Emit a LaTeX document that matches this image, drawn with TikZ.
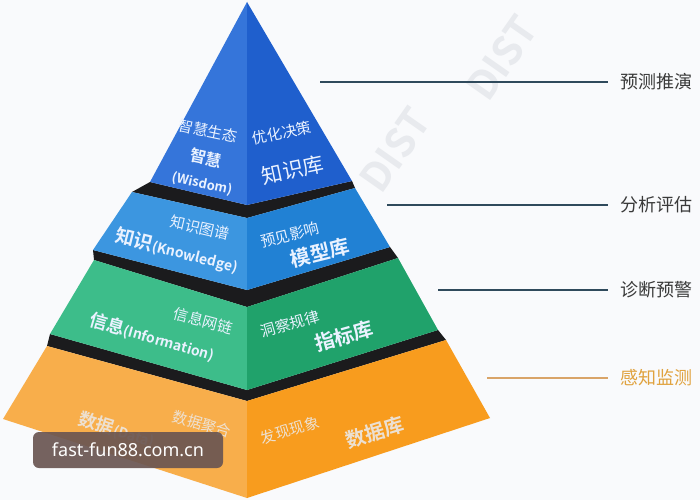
\documentclass[tikz,border=0pt]{standalone}
\usepackage{fontspec}
\setmainfont{Noto Sans CJK SC}[BoldFont={Noto Sans CJK SC Bold}]
\newfontfamily\urlfont{Noto Sans}
\usepackage{tikz}

\definecolor{bgC}{HTML}{F9FAFC}
\definecolor{bandC}{HTML}{1B1B1D}
\definecolor{wisL}{HTML}{3575DA}
\definecolor{wisR}{HTML}{1F5FCD}
\definecolor{knoL}{HTML}{3C96E0}
\definecolor{knoR}{HTML}{2181D4}
\definecolor{infL}{HTML}{3DBD8A}
\definecolor{infR}{HTML}{20A26B}
\definecolor{datL}{HTML}{F8AE4B}
\definecolor{datR}{HTML}{F89C1E}
\definecolor{faceW}{HTML}{EAF2FF}
\definecolor{lineC}{HTML}{2F4A5C}
\definecolor{lineO}{HTML}{D9A468}
\definecolor{labelC}{HTML}{3A3A3A}
\definecolor{labelO}{HTML}{E0A23E}
\definecolor{markC}{HTML}{E8EAEE}
\definecolor{urlC}{HTML}{6A5652}

\begin{document}
\begin{tikzpicture}[x=1pt, y=-1pt,
	facetxt/.style={text=faceW, inner sep=0pt},
	smalltxt/.style={facetxt, font=\fontsize{15}{15}\selectfont},
	bigtxt/.style={facetxt, font=\bfseries\fontsize{20}{20}\selectfont},
	mixtxt/.style={facetxt, font=\bfseries},
	band/.style={fill=bandC},
	sideline/.style={line width=1.6pt, draw=lineC},
	sidelabel/.style={anchor=west, inner xsep=12pt, text=labelC,
		font=\fontsize{18}{18}\selectfont},
	distmark/.style={text=markC, rotate=55, font=\bfseries\fontsize{40}{40}\selectfont},
	urlbox/.style={fill=urlC, fill opacity=0.92, text opacity=1, text=white,
		rounded corners=6pt, minimum width=190pt, minimum height=36pt,
		font=\urlfont\fontsize{18}{18}\selectfont}]
	
	\fill[bgC] (0,0) rectangle (700,500);
	\useasboundingbox (0,0) rectangle (700,500);
	
	% faint watermarks
	\node[distmark] (d1) at (502,58) {DIST};
	\node[distmark] (d2) at (395,150) {DIST};
	
	% black slabs between the layers
	\fill[band] (150,182) -- (247,205) -- (352,181) -- (355,188) -- (247,218) -- (132,192) -- cycle;
	\fill[band] (93,250) -- (247,290) -- (390,247) -- (398,258) -- (247,307) -- (94,260) -- cycle;
	\fill[band] (50,334) -- (247,390) -- (438,330) -- (446,340) -- (247,401) -- (47,346) -- cycle;
	
	% wisdom
	\fill[wisL] (247,2) -- (150,182) -- (247,205) -- cycle;
	\fill[wisR] (247,2) -- (352,181) -- (247,205) -- cycle;
	% knowledge
	\fill[knoL] (132,192) -- (247,218) -- (247,290) -- (93,250) -- cycle;
	\fill[knoR] (247,218) -- (355,188) -- (390,247) -- (247,290) -- cycle;
	% information
	\fill[infL] (94,260) -- (247,307) -- (247,390) -- (50,334) -- cycle;
	\fill[infR] (247,307) -- (398,258) -- (438,330) -- (247,390) -- cycle;
	% data
	\fill[datL] (47,346) -- (247,401) -- (247,498) -- (3,419) -- cycle;
	\fill[datR] (247,401) -- (446,340) -- (490,418) -- (247,498) -- cycle;
	
	% texts on the faces
	\node[smalltxt, rotate=-12] (w1) at (208,131) {智慧生态};
	\node[facetxt, rotate=-12, font=\bfseries\fontsize{16}{16}\selectfont] (w2) at (206,158) {智慧};
	\node[facetxt, rotate=-12, font=\bfseries\fontsize{13}{13}\selectfont] (w3) at (202,184) {(Wisdom)};
	\node[smalltxt, rotate=12] (w4) at (282,133) {优化决策};
	\node[facetxt, rotate=12, font=\fontsize{21}{21}\selectfont] (w5) at (293,170) {知识库};
	
	\node[smalltxt, rotate=-13] (k1) at (200,228) {知识图谱};
	\node[mixtxt, rotate=-14] (k2) at (177,251) {{\fontsize{19}{19}\selectfont 知识}{\fontsize{14}{14}\selectfont (Knowledge)}};
	\node[smalltxt, rotate=14] (k3) at (290,235) {预见影响};
	\node[bigtxt, rotate=14] (k4) at (320,253) {模型库};
	
	\node[smalltxt, rotate=-15] (i1) at (203,321) {信息网链};
	\node[mixtxt, rotate=-16] (i2) at (152,337) {{\fontsize{18}{18}\selectfont 信息}{\fontsize{14}{14}\selectfont (Information)}};
	\node[smalltxt, rotate=16] (i3) at (290,324) {洞察规律};
	\node[bigtxt, rotate=16] (i4) at (344,336) {指标库};
	
	\node[smalltxt, rotate=-16, text opacity=0.75] (t1) at (202,424) {数据聚合};
	\node[mixtxt, rotate=-17, text opacity=0.75] (t2) at (117,430) {{\fontsize{18}{18}\selectfont 数据}{\fontsize{14}{14}\selectfont (Data)}};
	\node[smalltxt, rotate=17, text opacity=0.8] (t3) at (290,430) {发现现象};
	\node[bigtxt, rotate=17, text opacity=0.8] (t4) at (375,432) {数据库};
	
	% side labels
	\coordinate (e1) at (320,82);
	\coordinate (e2) at (387,205);
	\coordinate (e3) at (438,290);
	\coordinate (e4) at (487,378);
	\node[sidelabel] (s1) at (608,82) {预测推演};
	\node[sidelabel] (s2) at (608,205) {分析评估};
	\node[sidelabel] (s3) at (608,290) {诊断预警};
	\node[sidelabel, text=labelO] (s4) at (608,378) {感知监测};
	\draw[sideline] (e1) -- (s1.west);
	\draw[sideline] (e2) -- (s2.west);
	\draw[sideline] (e3) -- (s3.west);
	\draw[sideline, draw=lineO] (e4) -- (s4.west);
	
	\node[urlbox] (url) at (128,450) {fast-fun88.com.cn};
	
\end{tikzpicture}
\end{document}
